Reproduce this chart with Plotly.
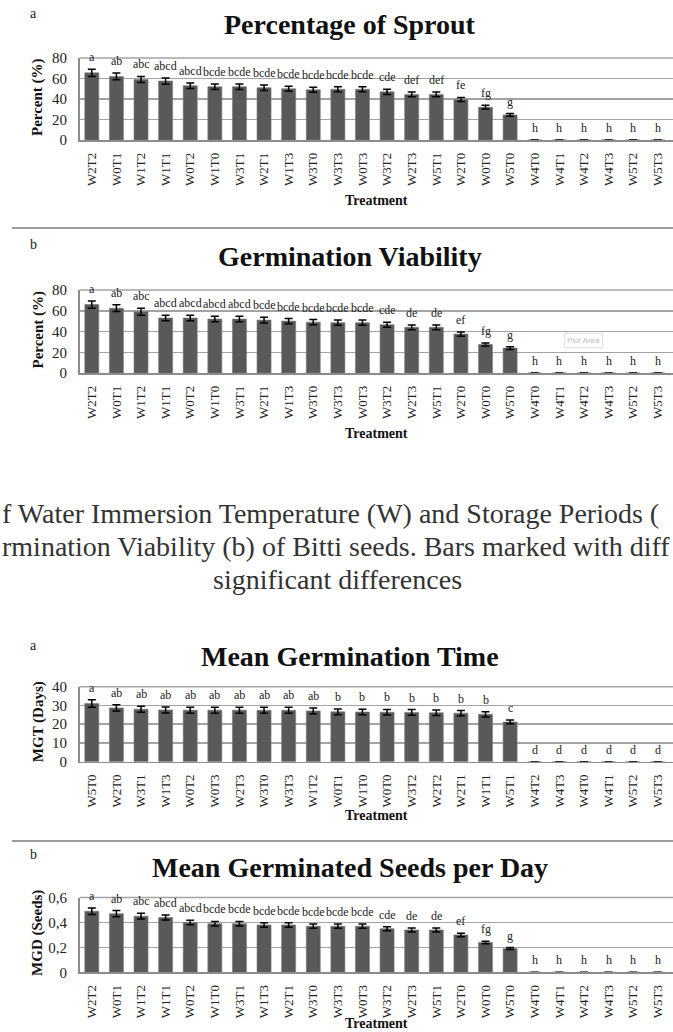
import plotly.graph_objects as go

W, H = 673, 1032

# ---------------- data ----------------
sprout_cats = ["W2T2", "W0T1", "W1T2", "W1T1", "W0T2", "W1T0", "W3T1", "W2T1", "W1T3", "W3T0", "W3T3", "W0T3",
               "W3T2", "W2T3", "W5T1", "W2T0", "W0T0", "W5T0", "W4T0", "W4T1", "W4T2", "W4T3", "W5T2", "W5T3"]
sprout_vals = [65.5, 62, 59, 57.5, 53, 52, 52, 51, 50, 49, 49.5, 49.5, 47, 44.5, 44.5, 39.5, 32, 24.5, 0, 0, 0, 0, 0, 0]
sprout_err = [3.5, 3.3, 3.0, 3.0, 2.7, 2.7, 2.7, 2.7, 2.5, 2.5, 2.5, 2.5, 2.5, 2.3, 2.3, 2.0, 1.8, 1.3, 0, 0, 0, 0, 0, 0]
sprout_letters = ["a", "ab", "abc", "abcd", "abcd", "bcde", "bcde", "bcde", "bcde", "bcde", "bcde", "bcde",
                  "cde", "def", "def", "fe", "fg", "g", "h", "h", "h", "h", "h", "h"]

viab_cats = ["W2T2", "W0T1", "W1T2", "W1T1", "W0T2", "W1T0", "W3T1", "W2T1", "W1T3", "W3T0", "W3T3", "W0T3",
             "W3T2", "W2T3", "W5T1", "W2T0", "W0T0", "W5T0", "W4T0", "W4T1", "W4T2", "W4T3", "W5T2", "W5T3"]
viab_vals = [66, 62.5, 59, 53, 53, 52, 52, 51, 50, 49, 48.5, 48.5, 46.5, 44, 44, 37.5, 27.5, 24, 0, 0, 0, 0, 0, 0]
viab_err = [3.5, 3.3, 3.3, 2.7, 2.7, 2.7, 2.7, 2.7, 2.5, 2.5, 2.5, 2.5, 2.5, 2.3, 2.3, 2.0, 1.5, 1.3, 0, 0, 0, 0, 0, 0]
viab_letters = ["a", "ab", "abc", "abcd", "abcd", "abcd", "abcd", "bcde", "bcde", "bcde", "bcde", "bcde",
                "cde", "de", "de", "ef", "fg", "g", "h", "h", "h", "h", "h", "h"]

mgt_cats = ["W5T0", "W2T0", "W3T1", "W1T3", "W0T2", "W0T3", "W2T3", "W3T0", "W3T3", "W1T2", "W0T1", "W1T0",
            "W0T0", "W3T2", "W2T2", "W2T1", "W1T1", "W5T1", "W4T2", "W4T3", "W4T0", "W4T1", "W5T2", "W5T3"]
mgt_vals = [31, 28.7, 28, 27.6, 27.5, 27.5, 27.5, 27.4, 27.4, 27.1, 26.6, 26.5, 26.4, 26.3, 26.1, 25.9, 25.3, 21.2,
            0, 0, 0, 0, 0, 0]
mgt_err = [2.0, 1.7, 1.6, 1.6, 1.6, 1.6, 1.6, 1.6, 1.6, 1.5, 1.5, 1.5, 1.5, 1.5, 1.5, 1.4, 1.4, 1.0, 0, 0, 0, 0, 0, 0]
mgt_letters = ["a", "ab", "ab", "ab", "ab", "ab", "ab", "ab", "ab", "ab", "b", "b",
               "b", "b", "b", "b", "b", "c", "d", "d", "d", "d", "d", "d"]

mgd_cats = ["W2T2", "W0T1", "W1T2", "W1T1", "W0T2", "W1T0", "W3T1", "W1T3", "W2T1", "W3T0", "W3T3", "W0T3",
            "W3T2", "W2T3", "W5T1", "W2T0", "W0T0", "W5T0", "W4T0", "W4T1", "W4T2", "W4T3", "W5T2", "W5T3"]
mgd_vals = [0.49, 0.47, 0.45, 0.44, 0.40, 0.39, 0.39, 0.38, 0.38, 0.37, 0.37, 0.37, 0.35, 0.34, 0.34, 0.30,
            0.24, 0.19, 0, 0, 0, 0, 0, 0]
mgd_err = [0.026, 0.025, 0.023, 0.02, 0.018, 0.018, 0.018, 0.018, 0.018, 0.017, 0.017, 0.017, 0.016, 0.016, 0.016,
           0.014, 0.01, 0.008, 0, 0, 0, 0, 0, 0]
mgd_letters = ["a", "ab", "abc", "abcd", "abcd", "bcde", "bcde", "bcde", "bcde", "bcde", "bcde", "bcde",
               "cde", "de", "de", "ef", "fg", "g", "h", "h", "h", "h", "h", "h"]

mgd_tickvals = [0, 0.2, 0.4, 0.6]
mgd_ticktext = ["0", "0,2", "0,4", "0,6"]

caption_lines = [
    "f Water Immersion Temperature (W) and Storage Periods (",
    "rmination Viability (b) of Bitti seeds. Bars marked with diff",
    "significant differences",
]

# ---------------- layout helpers ----------------
SERIF = "Liberation Serif, Times New Roman, serif"
BAR = "#595959"
GRID = "#a3a3a3"
AXIS = "#8c8c8c"


def fx(px):
    return px / W


def fy(py):
    return 1 - py / H


def note(px, py, text, size, color="#111", xanchor="center", yanchor="middle", **kw):
    d = dict(x=fx(px), y=fy(py), xref="paper", yref="paper", text=text, showarrow=False,
             xanchor=xanchor, yanchor=yanchor, font=dict(family=SERIF, size=size, color=color))
    d.update(kw)
    return d


panels = [
    dict(cats=sprout_cats, vals=sprout_vals, err=sprout_err, letters=sprout_letters,
         title="Percentage of Sprout", ytitle="Percent (%)", tag="a",
         top=58, bottom=140, ymax=80, dtick=20, tagy=13, titley=24, treaty=200, border=None),
    dict(cats=viab_cats, vals=viab_vals, err=viab_err, letters=viab_letters,
         title="Germination Viability", ytitle="Percent (%)", tag="b",
         top=290, bottom=373, ymax=80, dtick=20, tagy=245, titley=256, treaty=433, border=228),
    dict(cats=mgt_cats, vals=mgt_vals, err=mgt_err, letters=mgt_letters,
         title="Mean Germination Time", ytitle="MGT (Days)", tag="a",
         top=686.7, bottom=761.7, ymax=40, dtick=10, tagy=645, titley=656, treaty=815, border=None),
    dict(cats=mgd_cats, vals=mgd_vals, err=mgd_err, letters=mgd_letters,
         title="Mean Germinated Seeds per Day", ytitle="MGD (Seeds)", tag="b",
         top=897.5, bottom=972.3, ymax=0.6, dtick=0.2, tagy=854, titley=867, treaty=1023, border=841),
]

fig = go.Figure()
annotations = []
shapes = []
layout_axes = {}

for i, p in enumerate(panels):
    n = "" if i == 0 else str(i + 1)
    xa, ya = "x" + n, "y" + n
    fig.add_trace(go.Bar(
        x=p["cats"], y=p["vals"],
        error_y=dict(type="data", array=[e if e > 0 else None for e in p["err"]],
                     color="black", thickness=1.5, width=4),
        marker=dict(color=BAR, line=dict(color="#7a7a7a", width=0.6)),
        width=0.57, xaxis=xa, yaxis=ya, showlegend=False, hoverinfo="skip",
    ))
    layout_axes["xaxis" + n] = dict(
        domain=[fx(79.5), 1], anchor=ya, type="category", range=[-0.5, 23.62],
        tickangle=-90, tickfont=dict(family=SERIF, size=13, color="#222"),
        showgrid=False, showline=True, linecolor=AXIS, linewidth=1.5,
        ticks="", automargin=False, fixedrange=True, ticklabelstandoff=6,
    )
    yax = dict(
        domain=[fy(p["bottom"]), fy(p["top"])], anchor=xa, range=[0, p["ymax"]],
        dtick=p["dtick"], tickfont=dict(family=SERIF, size=15, color="#222"),
        showgrid=True, gridcolor=GRID, gridwidth=1.5, showline=True, linecolor=AXIS, linewidth=1.5,
        zeroline=False, ticks="", automargin=False, fixedrange=True, ticklabelstandoff=8,
    )
    if i == 3:
        yax.update(tickmode="array", tickvals=mgd_tickvals, ticktext=mgd_ticktext, dtick=None)
    layout_axes["yaxis" + n] = yax

    shapes.append(dict(type="line", xref="paper", yref="paper", x0=fx(79.5), x1=1,
                       y0=fy(p["top"]), y1=fy(p["top"]), line=dict(color=GRID, width=1.5)))

    for c, v, e, t in zip(p["cats"], p["vals"], p["err"], p["letters"]):
        annotations.append(dict(x=c, y=v + e, xref=xa, yref=ya, text=t, showarrow=False,
                                xanchor="center", yanchor="bottom", yshift=3,
                                font=dict(family=SERIF, size=12, color="#222")))
    annotations.append(note(33, p["tagy"], p["tag"], 14, "#222"))
    annotations.append(note(350, p["titley"], "<b>" + p["title"] + "</b>", 28))
    annotations.append(note(38, (p["top"] + p["bottom"]) / 2 - 2, "<b>" + p["ytitle"] + "</b>", 15,
                            textangle=-90))
    annotations.append(note(376, p["treaty"], "<b>Treatment</b>", 14))
    if p["border"] is not None:
        shapes.append(dict(type="line", xref="paper", yref="paper", x0=fx(12), x1=1,
                           y0=fy(p["border"]), y1=fy(p["border"]), line=dict(color="#9a9a9a", width=2)))

# "Plot Area" tooltip artefact
annotations.append(dict(x=fx(583), y=fy(341), xref="paper", yref="paper", text="Plot Area", showarrow=False,
                        xanchor="center", yanchor="middle",
                        font=dict(family="Liberation Sans, Arial", size=8, color="#c0c0c0"),
                        bgcolor="white", bordercolor="#e0e0e0", borderwidth=1, borderpad=2))

# caption lines
annotations.append(note(0, 513, caption_lines[0], 28, "#333", xanchor="left"))
annotations.append(note(0, 546, caption_lines[1], 28, "#333", xanchor="left"))
annotations.append(note(337, 579, caption_lines[2], 28, "#333"))

fig.update_layout(
    width=W, height=H, margin=dict(l=0, r=0, t=0, b=0),
    paper_bgcolor="white", plot_bgcolor="white",
    annotations=annotations, shapes=shapes, bargap=0.43,
    **layout_axes,
)

fig.write_html("out.html", config={"displayModeBar": False, "staticPlot": True},
               post_script="document.body.style.margin='0';document.body.style.overflow='hidden';")
